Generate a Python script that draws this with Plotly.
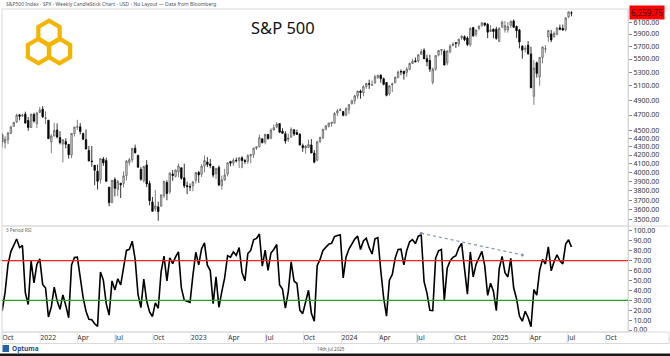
import numpy as np
import pandas as pd
import plotly.graph_objects as go

# ---------------- data: S&P 500 weekly candles (week ending Friday) ----------------
week_end = pd.date_range("2021-08-06", "2025-07-11", freq="W-FRI")

opens = [
    # 2021
    4407, 4437, 4462, 4450, 4513, 4536, 4449, 4402, 4448, 4348, 4385, 4463, 4553, 4610, 4702, 4689, 4712, 4628, 4538, 4707, 4587, 4733,
    # 2022
    4778, 4655, 4632, 4357, 4432, 4506, 4412, 4332, 4363, 4328, 4202, 4462, 4541, 4547, 4462, 4385, 4255, 4131, 4081, 4013, 3920, 4153, 4135, 3838, 3675, 3920,
    3815, 3880, 3880, 3965, 4113, 4144, 4282, 4195, 4034, 3910, 4084, 3877, 3682, 3610, 3631, 3638, 3746, 3888, 3788, 3982, 3956, 4006, 4053, 3940, 3854, 3843,
    # 2023
    3853, 3911, 3999, 3979, 4071, 4119, 4096, 4068, 3988, 4055, 3855, 3917, 3982, 4124, 4105, 4138, 4134, 4167, 4136, 4126, 4191, 4205, 4282, 4300, 4396, 4354,
    4450, 4404, 4505, 4543, 4588, 4491, 4458, 4389, 4415, 4510, 4473, 4454, 4313, 4284, 4289, 4321, 4224, 4140, 4364, 4407, 4511, 4554, 4590, 4593, 4725, 4759,
    # 2024
    4745, 4697, 4772, 4849, 4892, 4957, 5027, 5003, 5093, 5131, 5111, 5139, 5219, 5258, 5203, 5149, 4988, 5114, 5142, 5221, 5310, 5316, 5298, 5341, 5432, 5473,
    5471, 5573, 5638, 5506, 5477, 5151, 5345, 5561, 5636, 5624, 5442, 5615, 5711, 5757, 5737, 5835, 5857, 5833, 5723, 6008, 5893, 5992, 6040, 6085, 6063, 5943,
    # 2025
    5979, 5982, 5780, 6014, 5969, 5969, 6046, 6121, 6026, 5968, 5706, 5652, 5718, 5580, 4953, 5442, 5232, 5526, 5656, 5852, 5902, 5854, 5897, 6004, 5995, 5970,
    6193, 6260,
]
highs = [
    4440, 4468, 4480, 4513, 4546, 4542, 4486, 4465, 4466, 4429, 4475, 4559, 4608, 4718, 4714, 4718, 4744, 4672, 4713, 4731, 4741, 4808,
    4819, 4749, 4632, 4453, 4595, 4590, 4490, 4385, 4402, 4331, 4465, 4546, 4637, 4594, 4471, 4513, 4308, 4308, 4081, 4090, 4158, 4178, 4169, 3838, 3914, 3946,
    3918, 3880, 4012, 4141, 4168, 4281, 4325, 4204, 4062, 4076, 4140, 3907, 3733, 3807, 3685, 3763, 3905, 3912, 4001, 4029, 4034, 4101, 4053, 4100, 3898, 3878,
    3906, 4003, 4015, 4094, 4195, 4176, 4153, 4072, 4049, 4079, 3964, 4040, 4110, 4133, 4164, 4170, 4170, 4187, 4154, 4213, 4212, 4290, 4299, 4448, 4400, 4458,
    4456, 4528, 4578, 4607, 4594, 4528, 4490, 4458, 4541, 4515, 4511, 4465, 4338, 4318, 4386, 4393, 4259, 4374, 4418, 4520, 4568, 4597, 4609, 4738, 4778, 4793,
    4755, 4803, 4842, 4907, 4975, 5030, 5048, 5111, 5140, 5190, 5179, 5262, 5265, 5264, 5222, 5149, 5114, 5147, 5239, 5325, 5342, 5316, 5375, 5447, 5505, 5524,
    5570, 5655, 5669, 5566, 5566, 5370, 5563, 5643, 5651, 5652, 5636, 5734, 5767, 5765, 5822, 5879, 5878, 5863, 6012, 6018, 5972, 6045, 6099, 6090, 6085, 6050,
    5994, 6021, 6011, 6128, 6120, 6101, 6128, 6147, 6043, 5986, 5712, 5716, 5786, 5695, 5482, 5460, 5528, 5700, 5720, 5959, 5968, 5944, 6017, 6060, 6059, 6188,
    6284, 6291,
]
lows = [
    4367, 4424, 4347, 4443, 4508, 4457, 4413, 4305, 4289, 4279, 4330, 4456, 4546, 4595, 4630, 4672, 4585, 4496, 4532, 4600, 4531, 4733,
    4662, 4582, 4395, 4222, 4425, 4401, 4327, 4114, 4279, 4157, 4162, 4424, 4507, 4450, 4381, 4268, 4124, 4063, 3859, 3811, 3876, 4074, 3900, 3637, 3674, 3739,
    3743, 3722, 3836, 3911, 4079, 4114, 4218, 4057, 3907, 3886, 3838, 3647, 3585, 3585, 3492, 3636, 3721, 3699, 3764, 3906, 3944, 3948, 3918, 3828, 3764, 3795,
    3794, 3877, 3885, 3949, 4000, 4060, 4047, 3944, 3928, 3847, 3809, 3906, 3956, 4069, 4073, 4113, 4049, 4048, 4098, 4098, 4103, 4166, 4261, 4293, 4341, 4328,
    4385, 4390, 4502, 4528, 4466, 4455, 4335, 4356, 4415, 4431, 4449, 4317, 4238, 4216, 4284, 4223, 4104, 4128, 4342, 4394, 4511, 4538, 4546, 4593, 4687, 4751,
    4682, 4682, 4714, 4845, 4845, 4918, 4920, 4954, 5057, 5057, 5104, 5139, 5203, 5146, 5107, 4953, 4963, 5011, 5142, 5211, 5257, 5191, 5234, 5331, 5431, 5447,
    5446, 5565, 5497, 5391, 5302, 5120, 5322, 5541, 5561, 5403, 5402, 5588, 5703, 5674, 5696, 5807, 5783, 5703, 5696, 5853, 5854, 5963, 6024, 6027, 5832, 5933,
    5829, 5807, 5773, 6012, 5923, 5923, 6003, 6008, 5837, 5667, 5505, 5603, 5566, 5069, 4835, 5220, 5102, 5434, 5598, 5775, 5767, 5839, 5879, 5964, 5952, 5944,
    6172, 6202,
]
closes = [
    4437, 4468, 4441, 4509, 4535, 4458, 4433, 4455, 4357, 4391, 4471, 4545, 4605, 4698, 4683, 4698, 4595, 4538, 4712, 4621, 4726, 4766,
    4677, 4663, 4398, 4432, 4500, 4419, 4349, 4385, 4329, 4204, 4463, 4543, 4546, 4488, 4392, 4272, 4132, 4123, 4024, 3901, 4158, 4109, 3901, 3675, 3912, 3825,
    3899, 3863, 3962, 4130, 4145, 4280, 4228, 4058, 3924, 4067, 3873, 3693, 3586, 3640, 3583, 3753, 3901, 3771, 3993, 3965, 4026, 4072, 3934, 3852, 3845, 3840,
    3895, 3999, 3973, 4071, 4136, 4090, 4079, 3970, 4046, 3862, 3917, 3971, 4109, 4105, 4138, 4133, 4169, 4136, 4124, 4192, 4205, 4282, 4299, 4410, 4348, 4450,
    4399, 4505, 4536, 4582, 4478, 4464, 4370, 4406, 4516, 4457, 4450, 4320, 4288, 4309, 4327, 4224, 4117, 4358, 4415, 4514, 4559, 4595, 4604, 4719, 4755, 4770,
    4697, 4784, 4840, 4891, 4959, 5027, 5006, 5089, 5137, 5124, 5117, 5234, 5254, 5204, 5123, 4967, 5100, 5128, 5223, 5303, 5305, 5278, 5347, 5432, 5465, 5460,
    5567, 5615, 5505, 5459, 5346, 5344, 5554, 5634, 5648, 5408, 5626, 5703, 5738, 5751, 5815, 5864, 5808, 5729, 5995, 5870, 5969, 6032, 6090, 6051, 5931, 5971,
    5942, 5827, 5997, 6101, 6041, 6026, 6115, 6013, 5955, 5770, 5639, 5668, 5581, 5074, 5363, 5283, 5525, 5687, 5660, 5958, 5803, 5912, 6000, 5977, 5968, 6173,
    6279, 6259.75,
]

RSI_PERIOD = 3
price_ticks = [6100, 5900, 5700, 5500, 5300, 5100, 4900, 4700, 4500, 4400, 4300, 4200, 4100, 4000, 3900, 3800, 3700, 3600, 3500]
rsi_ticks = [0, 10, 20, 30, 40, 50, 60, 70, 80, 90, 100]
rsi_levels = {"upper": 70, "lower": 30}
quarter_ticks = ["2021-10-01", "2022-01-01", "2022-04-01", "2022-07-01", "2022-10-01", "2023-01-01", "2023-04-01",
                 "2023-07-01", "2023-10-01", "2024-01-01", "2024-04-01", "2024-07-01", "2024-10-01", "2025-01-01",
                 "2025-04-01", "2025-07-01", "2025-10-01"]
quarter_labels = ["Oct", "2022", "Apr", "Jul", "Oct", "2023", "Apr", "Jul", "Oct", "2024", "Apr", "Jul", "Oct",
                  "2025", "Apr", "Jul", "Oct"]
trend_dates = ["2024-07-12", "2025-03-14"]
trend_rsi = [97.7, 75.8]

# ---------------- RSI (Wilder) ----------------
c = np.array(closes, dtype=float)
d = np.diff(c)
g = np.where(d > 0, d, 0.0)
lo = np.where(d < 0, -d, 0.0)
rsi = np.full(len(c), np.nan)
ag, al = g[:RSI_PERIOD].mean(), lo[:RSI_PERIOD].mean()
rsi[RSI_PERIOD] = 100.0 if al == 0 else 100 - 100 / (1 + ag / al)
for i in range(RSI_PERIOD, len(d)):
    ag = (ag * (RSI_PERIOD - 1) + g[i]) / RSI_PERIOD
    al = (al * (RSI_PERIOD - 1) + lo[i]) / RSI_PERIOD
    rsi[i + 1] = 100.0 if al == 0 else 100 - 100 / (1 + ag / al)

# ---------------- layout helpers (pixel -> paper) ----------------
W, H = 670, 356
def px(x): return x / W
def py(y): return 1 - y / H

FONT = "Noto Sans, Open Sans, sans-serif"
X_RANGE = ["2021-09-30 12:00", "2025-11-25"]
PL, PR = 2, 628          # plot left/right pixels
P_TOP, P_BOT = 9, 226    # price panel
R_BOT = 332              # rsi panel bottom
GOLD = "#F5B400"

fig = go.Figure()
fig.add_trace(go.Candlestick(
    x=week_end, open=opens, high=highs, low=lows, close=closes,
    increasing=dict(line=dict(color="#5e5e5e", width=0.8), fillcolor="#e6e6e6"),
    decreasing=dict(line=dict(color="#000000", width=0.8), fillcolor="#000000"),
    whiskerwidth=0, showlegend=False, hoverinfo="skip", xaxis="x", yaxis="y"))
fig.add_trace(go.Scatter(x=week_end, y=rsi, mode="lines", line=dict(color="#000000", width=1.6),
                         showlegend=False, hoverinfo="skip", xaxis="x2", yaxis="y2"))
fig.add_trace(go.Scatter(x=trend_dates, y=trend_rsi, mode="lines+markers",
                         line=dict(color="#7d92b8", width=1.2, dash="dot"),
                         marker=dict(size=3, color="#7d92b8"),
                         showlegend=False, hoverinfo="skip", xaxis="x2", yaxis="y2"))

tickfont = dict(family=FONT, size=7, color="#333333")
fig.update_layout(
    width=W, height=H, autosize=False,
    margin=dict(l=0, r=0, t=0, b=0),
    paper_bgcolor="white", plot_bgcolor="white",
    showlegend=False,
    xaxis=dict(domain=[px(PL), px(PR)], range=X_RANGE, type="date", anchor="y",
               showticklabels=False, showgrid=False, zeroline=False, ticks="",
               rangeslider=dict(visible=False), showline=False, automargin=False),
    yaxis=dict(domain=[py(P_BOT), py(P_TOP)], type="log",
               range=[np.log10(3441), np.log10(6330)], side="right", anchor="x",
               tickvals=price_ticks, ticktext=[f"{v:.2f}" for v in price_ticks],
               ticks="outside", ticklen=3, tickcolor="#888888", tickfont=tickfont,
               showgrid=False, zeroline=False, showline=True, linecolor="#d0d0d0",
               automargin=False),
    xaxis2=dict(domain=[px(PL), px(PR)], range=X_RANGE, type="date", anchor="y2",
                tickvals=quarter_ticks, ticktext=quarter_labels, ticklabelposition="outside right",
                tickfont=dict(family=FONT, size=7, color="#333333"), ticks="",
                showgrid=False, zeroline=False, showline=False, automargin=False),
    yaxis2=dict(domain=[py(R_BOT), py(P_BOT)], range=[-2, 105], side="right", anchor="x2",
                tickvals=rsi_ticks, ticktext=[f"{v:.2f}" for v in rsi_ticks],
                ticks="outside", ticklen=3, tickcolor="#888888", tickfont=tickfont,
                showgrid=False, zeroline=False, showline=True, linecolor="#d0d0d0",
                automargin=False),
)

shapes = []
frame = dict(color="#dadada", width=1)
# panel frames
shapes.append(dict(type="rect", xref="paper", yref="paper", x0=px(PL), x1=px(PR), y0=py(P_BOT), y1=py(P_TOP), line=frame))
shapes.append(dict(type="rect", xref="paper", yref="paper", x0=px(PL), x1=px(PR), y0=py(R_BOT), y1=py(P_BOT), line=frame))
shapes.append(dict(type="line", xref="paper", yref="paper", x0=px(PR), x1=px(669), y0=py(P_TOP), y1=py(P_TOP), line=frame))
shapes.append(dict(type="line", xref="paper", yref="paper", x0=px(PR), x1=px(669), y0=py(P_BOT), y1=py(P_BOT), line=frame))
# x label band
shapes.append(dict(type="rect", xref="paper", yref="paper", x0=px(PL), x1=px(669), y0=py(343.5), y1=py(R_BOT), line=frame))
for t in quarter_ticks:
    shapes.append(dict(type="line", xref="x2", yref="paper", x0=t, x1=t, y0=py(343.5), y1=py(R_BOT),
                       line=dict(color="#e2e2e2", width=1)))
# RSI levels
shapes.append(dict(type="line", xref="paper", yref="y2", x0=px(PL), x1=px(PR), y0=rsi_levels["upper"], y1=rsi_levels["upper"],
                   line=dict(color="#ff2020", width=1.2)))
shapes.append(dict(type="line", xref="paper", yref="y2", x0=px(PL), x1=px(PR), y0=rsi_levels["lower"], y1=rsi_levels["lower"],
                   line=dict(color="#1fa81f", width=1.2)))
# bottom dark bar
shapes.append(dict(type="rect", xref="paper", yref="paper", x0=0, x1=1, y0=0, y1=py(353.5), line=dict(width=0), fillcolor="#1a1a1a"))
# Optuma icon
shapes.append(dict(type="rect", xref="paper", yref="paper", x0=px(2.5), x1=px(9), y0=py(352), y1=py(345),
                   line=dict(width=0), fillcolor="#1f62b0"))

# gold logo: three interlocking hexagons
def hex_path(cx, cy, r):
    pts = []
    for k in range(6):
        a = np.deg2rad(90 + 60 * k)
        pts.append((px(cx + r * np.cos(a)), py(cy - r * np.sin(a))))
    return "M " + " L ".join(f"{x:.5f},{y:.5f}" for x, y in pts) + " Z"

for cx, cy in [(49, 33), (38.5, 51), (59.5, 51)]:
    shapes.append(dict(type="path", xref="paper", yref="paper", path=hex_path(cx, cy, 12.3),
                       line=dict(color=GOLD, width=4.2), fillcolor="rgba(0,0,0,0)"))
fig.update_layout(shapes=shapes)

ann = []
ann.append(dict(text="S&amp;P500 Index - SPX - Weekly CandleStick Chart - USD - No Layout \u2014 Data from Bloomberg",
                xref="paper", yref="paper", x=px(4), y=py(4.5), xanchor="left", yanchor="middle",
                showarrow=False, font=dict(family=FONT, size=5, color="#555555")))
ann.append(dict(text="S&amp;P 500", xref="paper", yref="paper", x=px(283), y=py(27), xanchor="center", yanchor="middle",
                showarrow=False, font=dict(family=FONT, size=16.5, color="#111111")))
ann.append(dict(text="3 Period RSI", xref="paper", yref="paper", x=px(4), y=py(229.5), xanchor="left", yanchor="middle",
                showarrow=False, font=dict(family=FONT, size=4.5, color="#666666")))
ann.append(dict(text="14th Jul 2025", xref="paper", yref="paper", x=px(331), y=py(348.5), xanchor="center", yanchor="middle",
                showarrow=False, font=dict(family=FONT, size=4.5, color="#555555")))
ann.append(dict(text="<b>Optuma</b>", xref="paper", yref="paper", x=px(10), y=py(348.5), xanchor="left", yanchor="middle",
                showarrow=False, font=dict(family=FONT, size=6.5, color="#1f4f8f")))
ann.append(dict(text=f"{closes[-1]:,.2f}", xref="paper", yref="y", x=px(PR + 1), y=np.log10(closes[-1]),
                xanchor="left", yanchor="middle", showarrow=False, bgcolor="#ff0000", borderpad=1,
                font=dict(family=FONT, size=8, color="#3a0000")))
fig.update_layout(annotations=ann)

fig.write_html("out.html", config={"displayModeBar": False},
               post_script="document.body.style.margin='0';document.body.style.overflow='hidden';")
